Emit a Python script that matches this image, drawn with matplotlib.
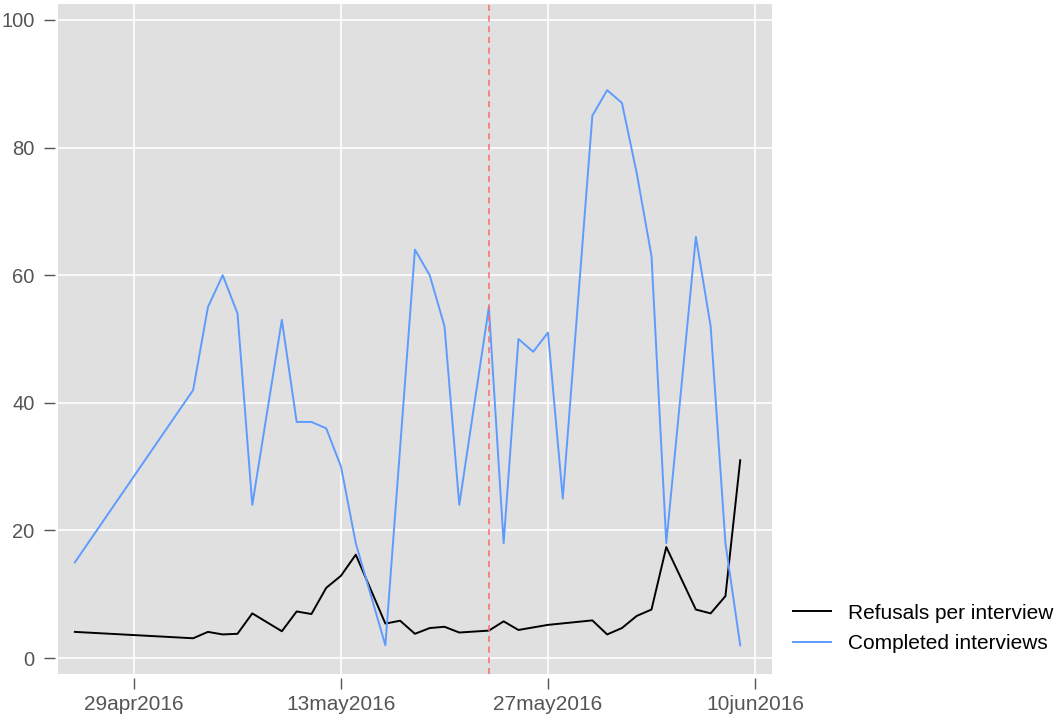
import matplotlib
matplotlib.use("Agg")
import matplotlib.pyplot as plt
import matplotlib.dates as mdates
import numpy as np
import datetime as dt

plt.rcParams['font.family'] = ['Liberation Sans', 'DejaVu Sans']

# Data
completed_dates = ["2016-04-25", "2016-05-03", "2016-05-04", "2016-05-05", "2016-05-06",
                   "2016-05-07", "2016-05-09", "2016-05-10", "2016-05-11", "2016-05-12",
                   "2016-05-13", "2016-05-14", "2016-05-16", "2016-05-18", "2016-05-19",
                   "2016-05-20", "2016-05-21", "2016-05-23", "2016-05-24", "2016-05-25",
                   "2016-05-26", "2016-05-27", "2016-05-28", "2016-05-30", "2016-05-31",
                   "2016-06-01", "2016-06-02", "2016-06-03", "2016-06-04", "2016-06-06",
                   "2016-06-07", "2016-06-08", "2016-06-09"]
completed = [15, 42, 55, 60, 54, 24, 53, 37, 37, 36, 30, 18, 2, 64, 60, 52, 24, 55, 18,
             50, 48, 51, 25, 85, 89, 87, 76, 63, 18, 66, 52, 18, 2]

refusal_dates = ["2016-04-25", "2016-05-03", "2016-05-04", "2016-05-05", "2016-05-06",
                 "2016-05-07", "2016-05-09", "2016-05-10", "2016-05-11", "2016-05-12",
                 "2016-05-13", "2016-05-14", "2016-05-16", "2016-05-17", "2016-05-18",
                 "2016-05-19", "2016-05-20", "2016-05-21", "2016-05-23", "2016-05-24",
                 "2016-05-25", "2016-05-26", "2016-05-27", "2016-05-30", "2016-05-31",
                 "2016-06-01", "2016-06-02", "2016-06-03", "2016-06-04", "2016-06-06",
                 "2016-06-07", "2016-06-08", "2016-06-09"]
refusals = [4.1, 3.1, 4.1, 3.7, 3.8, 7.0, 4.2, 7.3, 6.9, 11.0, 12.9, 16.2, 5.4, 5.85,
            3.8, 4.7, 4.9, 4.0, 4.3, 5.75, 4.4, 4.8, 5.2, 5.9, 3.7, 4.7, 6.6, 7.6, 17.4,
            7.6, 7.0, 9.7, 31.0]

tick_dates = ["2016-04-29", "2016-05-13", "2016-05-27", "2016-06-10"]
tick_labels = ["29apr2016", "13may2016", "27may2016", "10jun2016"]
ytick_values = [0, 20, 40, 60, 80, 100]
vline_date = "2016-05-23"

to_dt = lambda s: dt.datetime.strptime(s, "%Y-%m-%d")
cd = [to_dt(s) for s in completed_dates]
rd = [to_dt(s) for s in refusal_dates]
td = [to_dt(s) for s in tick_dates]

fig = plt.figure(figsize=(10.59, 7.16), dpi=100)
ax = fig.add_axes([58/1059, 1-674/716, (772-58)/1059, (674-4)/716])
ax.set_facecolor('#E0E0E0')

l1, = ax.plot(rd, refusals, color='black', lw=1.4, label='Refusals per interview', zorder=3)
l2, = ax.plot(cd, completed, color='#5E9BFF', lw=1.4, label='Completed interviews', zorder=3)
ax.axvline(to_dt(vline_date), color='#FF6A6A', lw=1.1, ls=(0, (4, 3)), zorder=4)

base = to_dt("2016-04-29")
ax.set_xlim(mdates.date2num(base) - 5.14, mdates.date2num(base) + 43.15)
ax.set_ylim(-2.5, 102.5)

ax.set_xticks(td)
ax.set_xticklabels(tick_labels)
ax.set_yticks(ytick_values)
ax.grid(True, color='white', lw=1.2)
ax.set_axisbelow(True)
for s in ax.spines.values():
    s.set_visible(False)
ax.spines['left'].set_position(('outward', 2))
ax.spines['bottom'].set_position(('outward', 3))
ax.tick_params(axis='both', colors='#555555', length=8, width=1.0,
               labelcolor='#555555')
ax.tick_params(axis='x', pad=4, labelsize=15)
ax.tick_params(axis='y', pad=7, labelsize=14.5)

fig.legend(handles=[l1, l2], loc='center left', bbox_to_anchor=(793/1059, 1-628.5/716),
           frameon=False, fontsize=15, handlelength=1.83, handletextpad=0.82,
           labelspacing=0.55, borderaxespad=0, borderpad=0)

fig.savefig('out.png', dpi=100)
